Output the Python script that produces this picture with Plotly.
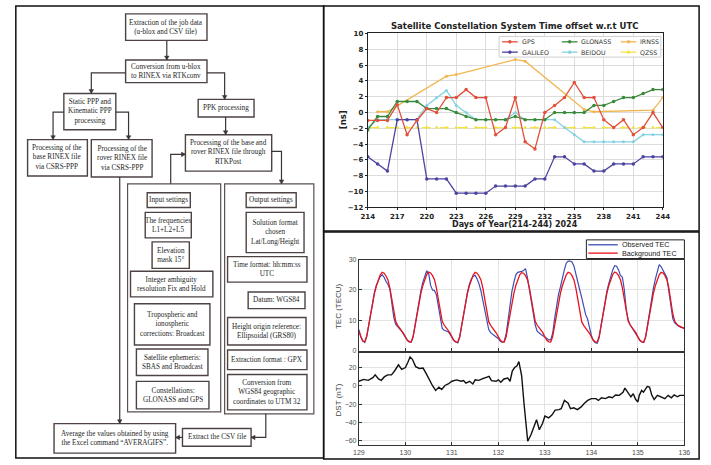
import plotly.graph_objects as go

W, H = 711, 465
def px(x): return x / W
def py(y): return 1 - y / H

# ---------------- top-right chart data ----------------
days = list(range(214, 245))
day_ticks = list(range(214, 245, 3))
gps = [-1, -1, -1, 1, -2.8, -1, 0.5, 0, 1.9, 1.9, 2.9, 1.9, 1.9, -2.8, -1.9, 1.9,
       -3.7, -4.6, 0, 0.9, 1.9, 3.8, 1.9, 1.9, -0.9, -1.9, -0.9, -2.8, -1.9, 0, -1.9]
glonass = [-2.2, -0.5, -0.5, 1.4, 1.4, 1.4, 0.5, 0.5, 0.5, 0, -0.5, -0.9, -0.9, -0.9, -0.9, -0.5,
           -0.9, -0.9, -0.9, 0, 0, 0, 0, 0.9, 0.9, 1.4, 1.9, 1.9, 2.4, 2.9, 2.9]
galileo = [-5.6, -6.5, -7.4, -0.9, -0.9, -0.9, -8.4, -8.4, -8.4, -10.2, -10.2, -10.2, -10.2, -9.3, -9.3, -9.3,
           -9.3, -8.4, -8.4, -5.6, -5.6, -6.5, -6.5, -7.4, -7.4, -6.5, -6.5, -6.5, -5.6, -5.6, -5.6]
beidou = [-1.9, -0.9, -0.9, -0.9, -0.9, -0.9, 0.9, 1.9, 2.8, 0.9, 0, -0.9, -0.9, -0.9, -0.9, 0,
          -0.9, -0.9, -0.9, -0.9, -1.9, -2.8, -3.7, -3.7, -3.7, -3.7, -3.7, -3.7, -2.8, -2.8, -2.8]
irnss_days = [215, 216, 222, 223, 229, 230, 236, 237, 243, 244]
irnss = [0.1, 0.1, 4.6, 4.8, 6.7, 6.5, 0.4, 0.1, 0.3, 1.9]
qzss = [-1.9] * 31

sat_names = ["GPS", "GALILEO", "GLONASS", "BEIDOU", "IRNSS", "QZSS"]
sat_colors = {"GPS": "#e2503a", "GALILEO": "#4b43a0", "GLONASS": "#3a8a3c",
              "BEIDOU": "#84d2e2", "IRNSS": "#f1b54e", "QZSS": "#f3e446"}

# ---------------- bottom-right chart data ----------------
tec_obs = [
    7.0, 4.6, 3.3, 2.8, 4.6, 8.5, 12.6, 16.2, 19.2, 21.6, 23.2, 24.4, 25.0, 24.2, 22.8, 21.8, 20.2, 16.0, 11.0, 8.7, 8.0, 7.2, 6.5, 5.5,
    4.5, 3.5, 3.0, 3.0, 4.8, 8.6, 12.8, 16.6, 19.8, 22.6, 24.6, 26.3, 25.4, 21.5, 20.0, 19.8, 18.4, 14.5, 10.4, 7.4, 6.8, 6.5, 6.3, 5.5,
    4.4, 3.4, 2.9, 2.6, 4.4, 8.4, 12.4, 16.0, 19.2, 21.8, 23.6, 24.5, 24.8, 23.6, 22.0, 19.6, 16.4, 12.4, 9.0, 7.0, 6.0, 5.5, 5.2, 4.6,
    4.0, 3.2, 2.8, 3.2, 5.6, 10.2, 15.2, 19.6, 22.6, 25.0, 25.8, 25.9, 26.1, 26.4, 27.0, 24.0, 20.0, 15.0, 11.0, 8.5, 6.5, 5.8, 5.4, 5.0,
    4.6, 4.0, 3.6, 3.6, 5.8, 10.5, 15.2, 18.5, 21.0, 24.0, 26.5, 28.8, 29.5, 29.5, 29.2, 27.8, 25.5, 23.0, 20.0, 17.5, 14.5, 12.0, 10.5, 7.5,
    5.0, 3.4, 2.7, 2.5, 4.4, 8.4, 12.6, 16.5, 19.6, 22.2, 24.6, 26.6, 28.0, 27.8, 26.6, 24.8, 24.2, 20.0, 13.5, 10.2, 8.6, 7.6, 6.6, 5.5,
    4.5, 3.5, 3.0, 2.8, 4.5, 8.6, 13.0, 17.2, 20.6, 23.6, 26.0, 28.3, 27.6, 26.6, 25.2, 24.0, 19.6, 14.2, 10.6, 9.2, 8.6, 8.1, 7.8, 7.6,
    7.5]
tec_bg = [
    6.3, 4.4, 3.2, 3.0, 4.8, 8.2, 12.2, 15.8, 18.8, 21.3, 23.3, 25.0, 25.8, 25.5, 24.6, 23.3, 20.5, 16.5, 12.2, 9.6, 8.4, 7.6, 6.9, 5.8,
    4.6, 3.5, 3.0, 2.9, 4.7, 8.3, 12.3, 16.0, 19.0, 21.5, 23.5, 25.1, 25.9, 25.6, 24.7, 23.4, 20.6, 16.6, 12.3, 9.7, 8.5, 7.7, 7.0, 5.9,
    4.6, 3.5, 3.0, 2.9, 4.7, 8.2, 12.2, 15.9, 18.9, 21.4, 23.4, 25.0, 25.8, 25.5, 24.6, 23.3, 20.5, 16.5, 12.2, 9.6, 8.4, 7.6, 6.9, 5.8,
    4.6, 3.5, 3.0, 2.9, 4.7, 8.3, 12.3, 16.0, 19.0, 21.5, 23.5, 25.0, 25.7, 25.5, 24.7, 23.4, 20.6, 16.6, 12.3, 9.7, 8.5, 7.7, 7.0, 5.9,
    4.6, 3.5, 3.0, 2.9, 4.7, 8.2, 12.2, 15.9, 18.9, 21.4, 23.4, 25.0, 25.8, 25.6, 24.7, 23.3, 20.5, 16.5, 12.2, 9.6, 8.4, 7.6, 6.9, 5.8,
    4.6, 3.5, 3.0, 2.9, 4.7, 8.3, 12.3, 16.0, 19.0, 21.5, 23.5, 25.1, 25.9, 25.6, 24.7, 23.4, 20.6, 16.6, 12.3, 9.7, 8.5, 7.7, 7.0, 5.9,
    4.6, 3.5, 3.0, 2.9, 4.7, 8.2, 12.2, 15.9, 18.9, 21.4, 23.4, 25.0, 25.8, 25.6, 24.7, 23.3, 20.5, 16.5, 12.2, 9.8, 8.8, 8.3, 7.9, 7.6,
    7.3]
tec_time = [129 + i / 24 for i in range(len(tec_obs))]

dst_time = [129.0, 129.1, 129.2, 129.3, 129.35, 129.42, 129.48, 129.55, 129.62, 129.7, 129.77, 129.85, 129.92,
            130.0, 130.05, 130.1, 130.15, 130.22, 130.3, 130.38, 130.45, 130.5, 130.58, 130.65, 130.72, 130.78, 130.85, 130.92,
            131.0, 131.1, 131.2, 131.25, 131.3, 131.38, 131.45, 131.5, 131.58, 131.65, 131.72, 131.8, 131.85, 131.95,
            132.0, 132.05, 132.12, 132.2, 132.25, 132.3, 132.35, 132.4, 132.44, 132.5, 132.55, 132.6, 132.63, 132.7,
            132.78, 132.82, 132.88, 132.95, 133.0, 133.08, 133.15, 133.22, 133.3, 133.35, 133.42, 133.5, 133.55, 133.62,
            133.7, 133.78, 133.85, 133.92, 134.0, 134.1, 134.15, 134.22, 134.3, 134.38, 134.45, 134.52, 134.6, 134.68,
            134.72, 134.78, 134.85, 134.9, 134.95, 135.0, 135.03, 135.08, 135.12, 135.2, 135.25, 135.3, 135.35, 135.42,
            135.5, 135.58, 135.65, 135.72, 135.78, 135.85, 135.9, 136.0]
dst_val = [5, 7, 6, 9, 12, 7.5, 6, 10, 12, 12, 16.5, 23, 18,
           20, 25.5, 31.5, 29, 21, 19, 19.4, 13, 7.5, 0.4, -5, -1.4, -4, 0.4, 2,
           5, 6.5, 5, 5.7, 3, 5, 2, 6.5, 6, 7.5, 8.6, 10.4, 5.7, 5,
           6.5, 4, 7.5, 8.6, 5, 16.5, 20, 22, 26.5, 11, -19, -48, -60.6, -53.5,
           -41, -37, -48, -41, -33, -35, -32, -26.5, -26, -25, -16, -19, -25, -24,
           -26, -23, -19, -16, -14, -14, -16, -13, -14, -12, -13, -10, -10.4, -7,
           -2.5, -7, -12, -8.6, -14.7, -17.6, -10.4, -5, -7, -0.7, -1.4, -10.4, -15, -10.4,
           -12, -14, -10.4, -13, -10, -12, -10.4, -10.4]

tec_ticks = [0, 10, 20, 30]
dst_ticks = [-60, -40, -20, 0, 20]
doy_ticks = list(range(129, 137))

fig = go.Figure()

# ---- top chart traces
fig.add_trace(go.Scatter(x=days, y=qzss, mode="lines+markers", line=dict(color=sat_colors["QZSS"], width=1.3, dash="dash"),
                         marker=dict(size=3), xaxis="x", yaxis="y", showlegend=False))
fig.add_trace(go.Scatter(x=irnss_days, y=irnss, mode="lines+markers", line=dict(color=sat_colors["IRNSS"], width=1.3),
                         marker=dict(size=3), xaxis="x", yaxis="y", showlegend=False))
fig.add_trace(go.Scatter(x=days, y=beidou, mode="lines+markers", line=dict(color=sat_colors["BEIDOU"], width=1.3),
                         marker=dict(size=3), xaxis="x", yaxis="y", showlegend=False))
fig.add_trace(go.Scatter(x=days, y=galileo, mode="lines+markers", line=dict(color=sat_colors["GALILEO"], width=1.3),
                         marker=dict(size=3.5), xaxis="x", yaxis="y", showlegend=False))
fig.add_trace(go.Scatter(x=days, y=glonass, mode="lines+markers", line=dict(color=sat_colors["GLONASS"], width=1.3),
                         marker=dict(size=3.5), xaxis="x", yaxis="y", showlegend=False))
fig.add_trace(go.Scatter(x=days, y=gps, mode="lines+markers", line=dict(color=sat_colors["GPS"], width=1.3),
                         marker=dict(size=3.5), xaxis="x", yaxis="y", showlegend=False))

# ---- bottom charts
fig.add_trace(go.Scatter(x=tec_time, y=tec_obs, mode="lines", line=dict(color="#3d4db4", width=1.2),
                         xaxis="x2", yaxis="y2", showlegend=False))
fig.add_trace(go.Scatter(x=tec_time, y=tec_bg, mode="lines", line=dict(color="#e8141c", width=1.3),
                         xaxis="x2", yaxis="y2", showlegend=False))
fig.add_trace(go.Scatter(x=dst_time, y=dst_val, mode="lines", line=dict(color="#111111", width=1.4),
                         xaxis="x3", yaxis="y3", showlegend=False))

bold_tick = dict(family="DejaVu Sans", size=7, color="#222", weight="bold")
mat_tick = dict(family="Liberation Sans", size=7, color="#4d4d4d")

fig.update_layout(
    width=W, height=H, margin=dict(l=0, r=0, t=0, b=0),
    paper_bgcolor="white", plot_bgcolor="white", showlegend=False,
    xaxis=dict(domain=[px(368), px(669)], range=[214, 244], tickvals=day_ticks, tickfont=bold_tick,
               showgrid=True, gridcolor="#dcdcdc", showline=True, linecolor="#222", linewidth=1, mirror=True,
               ticks="outside", ticklen=2, tickcolor="#222", zeroline=False, anchor="y"),
    yaxis=dict(domain=[py(207), py(30)], range=[-12, 10], dtick=2, tickfont=bold_tick,
               showgrid=True, gridcolor="#dcdcdc", showline=True, linecolor="#222", linewidth=1, mirror=True,
               ticks="outside", ticklen=2, tickcolor="#222", zeroline=False, anchor="x"),
    xaxis2=dict(domain=[px(359), px(691)], range=[129, 136], tickvals=doy_ticks, showticklabels=False,
                showgrid=True, gridcolor="#e3e3e3", showline=True, linecolor="#333", linewidth=1, mirror=True,
                ticks="inside", ticklen=3, tickcolor="#333", zeroline=False, anchor="y2"),
    yaxis2=dict(domain=[py(353), py(260)], range=[0, 30], tickvals=tec_ticks, tickfont=mat_tick,
                showgrid=True, gridcolor="#e3e3e3", showline=True, linecolor="#333", linewidth=1, mirror=True,
                ticks="inside", ticklen=3, tickcolor="#333", zeroline=False, anchor="x2"),
    xaxis3=dict(domain=[px(359), px(691)], range=[129, 136], tickvals=doy_ticks, tickfont=mat_tick,
                showgrid=True, gridcolor="#e3e3e3", showline=True, linecolor="#333", linewidth=1, mirror=True,
                ticks="inside", ticklen=3, tickcolor="#333", zeroline=False, anchor="y3"),
    yaxis3=dict(domain=[py(449), py(355)], range=[-65, 36], tickvals=dst_ticks, tickfont=mat_tick,
                showgrid=True, gridcolor="#e3e3e3", showline=True, linecolor="#333", linewidth=1, mirror=True,
                ticks="inside", ticklen=3, tickcolor="#333", zeroline=False, anchor="x3"),
)

shapes = []
annots = []

def rect(x0, y0, x1, y1, color="#4d4343", width=1.4, fill=None):
    shapes.append(dict(type="rect", xref="paper", yref="paper", x0=px(x0), x1=px(x1), y0=py(y1), y1=py(y0),
                       line=dict(color=color, width=width), fillcolor=fill, layer="above"))

def text(x, y, s, size=7.2, family="Liberation Serif", color="#1e1e1e", xanchor="center", angle=0, weight=None):
    f = dict(family=family, size=size, color=color)
    if weight:
        f["weight"] = weight
    annots.append(dict(x=px(x), y=py(y), xref="paper", yref="paper", text=s, showarrow=False,
                       xanchor=xanchor, yanchor="middle", font=f, textangle=angle, borderpad=0))

def seg(pts, color="#3d3535", width=1.2):
    d = "M " + " L ".join(f"{px(a):.5f},{py(b):.5f}" for a, b in pts)
    shapes.append(dict(type="path", xref="paper", yref="paper", path=d, line=dict(color=color, width=width)))

def arrow(pts, color="#3d3535"):
    seg(pts, color)
    (xa, ya), (xb, yb) = pts[-2], pts[-1]
    L, h = 4.0, 2.3
    if xa == xb:
        s = 1 if yb > ya else -1
        tri = [(xb, yb), (xb - h, yb - s * L), (xb + h, yb - s * L)]
    else:
        s = 1 if xb > xa else -1
        tri = [(xb, yb), (xb - s * L, yb - h), (xb - s * L, yb + h)]
    d = "M " + " L ".join(f"{px(a):.5f},{py(b):.5f}" for a, b in tri) + " Z"
    shapes.append(dict(type="path", xref="paper", yref="paper", path=d, fillcolor=color, line=dict(color=color, width=0.5)))

# ---------------- panel borders ----------------
rect(9, 2, 323, 462, color="#111", width=1.5)
rect(323, 2, 706, 231, color="#111", width=1.5)
rect(323, 232, 706, 463, color="#111", width=1.5)

# ---------------- flowchart ----------------
boxes = [
    (121, 10, 204, 37, "Extraction of the job data<br>(u-blox and CSV file)"),
    (121, 57, 204, 80, "Conversion from u-blox<br>to RINEX via RTKconv"),
    (58, 91, 111, 128, "Static PPP and<br>Kinematic PPP<br>processing"),
    (21, 138, 82, 175, "Processing of the<br>base RINEX file<br>via CSRS-PPP"),
    (86, 138, 148, 176, "Processing of the<br>rover RINEX file<br>via CSRS-PPP"),
    (195, 97, 252, 115, "PPK processing"),
    (182, 133, 270, 170, "Processing of the base and<br>rover RINEX file through<br>RTKPost"),
    (143, 192, 187, 207, "Input settings"),
    (141, 212, 188, 238, "The frequencies<br>L1+L2+L5"),
    (148, 242, 186, 269, "Elevation<br>mask 15°"),
    (126, 272, 210, 298, "Integer ambiguity<br>resolution Fix and Hold"),
    (130, 305, 207, 347, "Tropospheric and<br>ionospheric<br>corrections: Broadcast"),
    (132, 351, 205, 378, "Satellite ephemeris:<br>SBAS and Broadcast"),
    (132, 384, 206, 412, "Constellations:<br>GLONASS and GPS"),
    (244, 192, 295, 207, "Output settings"),
    (244, 212, 303, 253, "Solution format<br>chosen<br>Lat/Long/Height"),
    (225, 257, 306, 283, "Time format: hh:mm:ss<br>UTC"),
    (246, 293, 304, 310, "Datum: WGS84"),
    (225, 319, 305, 347, "Height origin reference:<br>Ellipsoidal (GRS80)"),
    (225, 352, 306, 372, "Extraction format : GPX"),
    (225, 377, 306, 413, "Conversion from<br>WGS84 geographic<br>coordinates to UTM 32"),
    (48, 427, 172, 457, "Average the values obtained by using<br>the Excel command \u201cAVERAGIFS\u201d."),
    (179, 432, 249, 450, "Extract the CSV file"),
]
rect(123, 183, 218, 415, color="#5a4f4f", width=1.2)
rect(222, 183, 313, 417, color="#5a4f4f", width=1.2)
for x0, y0, x1, y1, s in boxes:
    rect(x0, y0, x1, y1)
    text((x0 + x1) / 2, (y0 + y1) / 2, s)

arrow([(163, 37), (163, 57)])
arrow([(121, 70), (86, 70), (86, 91)])
arrow([(204, 70), (222, 70), (222, 97)])
arrow([(58, 110), (47, 110), (47, 138)])
arrow([(111, 110), (124, 110), (124, 138)])
arrow([(223, 115), (223, 133)])
arrow([(167, 183), (167, 153), (182, 153)])
arrow([(270, 150), (280, 150), (280, 183)])
arrow([(115, 176), (115, 427)])
arrow([(264, 417), (264, 441), (249, 441)])
arrow([(179, 441), (172, 441)])

# ---------------- top chart texts & legend ----------------
text(518, 22, "Satellite Constellation System Time offset w.r.t UTC", size=8.5, family="DejaVu Sans", color="#222", weight="bold")
text(518, 224, "Days of Year(214-244) 2024", size=8, family="DejaVu Sans", color="#222", weight="bold")
text(343, 118, "[ns]", size=8.5, family="DejaVu Sans", color="#222", angle=-90, weight="bold")

rect(502, 33, 667, 54, color="#cfcfcf", width=1, fill="rgba(255,255,255,0.85)")
leg_items = [("GPS", 505, 38.5), ("GLONASS", 566, 38.5), ("IRNSS", 626, 38.5),
             ("GALILEO", 505, 49), ("BEIDOU", 566, 49), ("QZSS", 626, 49)]
for name, lx, ly in leg_items:
    c = sat_colors[name]
    shapes.append(dict(type="line", xref="paper", yref="paper", x0=px(lx), x1=px(lx + 16), y0=py(ly), y1=py(ly),
                       line=dict(color=c, width=1.3)))
    shapes.append(dict(type="circle", xref="paper", yref="paper", x0=px(lx + 6.5), x1=px(lx + 9.5),
                       y0=py(ly + 1.5), y1=py(ly - 1.5), fillcolor=c, line=dict(color=c, width=0.5)))
    text(lx + 19, ly, name, size=6.3, family="DejaVu Sans", color="#333", xanchor="left")

# ---------------- bottom chart texts & legend ----------------
text(338, 307, "TEC (TECU)", size=8, family="Liberation Sans", color="#444", angle=-90)
text(338, 403, "DST (nT)", size=8, family="Liberation Sans", color="#444", angle=-90)
rect(591, 240, 691, 259, color="#222", width=1, fill="white")
shapes.append(dict(type="line", xref="paper", yref="paper", x0=px(593), x1=px(623), y0=py(245), y1=py(245),
                   line=dict(color="#3d4db4", width=1.3)))
shapes.append(dict(type="line", xref="paper", yref="paper", x0=px(593), x1=px(623), y0=py(253.5), y1=py(253.5),
                   line=dict(color="#e8141c", width=1.3)))
text(626, 245, "Observed TEC", size=7.2, family="Liberation Sans", color="#222", xanchor="left")
text(626, 253.5, "Background TEC", size=7.2, family="Liberation Sans", color="#222", xanchor="left")

fig.update_layout(shapes=shapes, annotations=annots)
fig.write_html("out.html")
